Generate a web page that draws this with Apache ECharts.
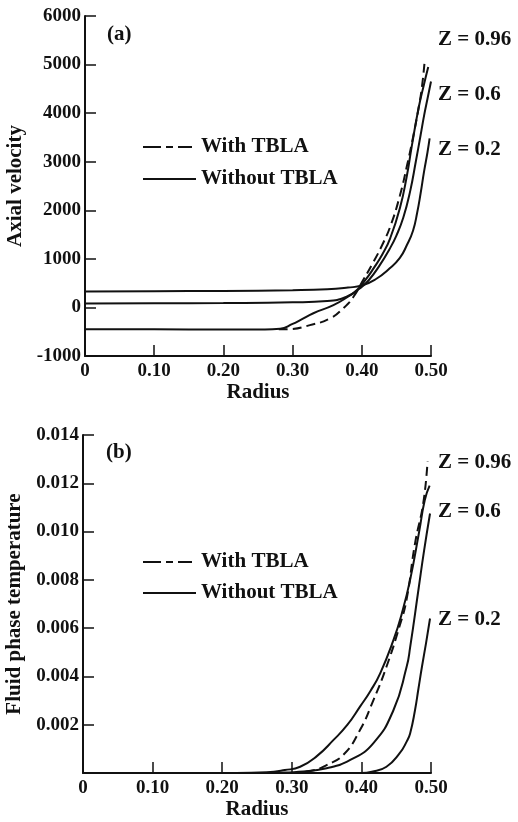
<!DOCTYPE html>
<html>
<head>
<meta charset="utf-8">
<script src="https://cdn.jsdelivr.net/npm/echarts@6/dist/echarts.min.js"></script>
<style>
  html, body { margin: 0; padding: 0; background: #fff; }
  #chart { width: 518px; height: 822px; }
</style>
</head>
<body>
<div id="chart"></div>
<script>
// ---- Panel (a): axial velocity vs radius ----
const velTicks = [-1000, 0, 1000, 2000, 3000, 4000, 5000, 6000];
const radiusTicks = [0, 0.10, 0.20, 0.30, 0.40, 0.50];

const velZ020 = [[0,330],[0.1,335],[0.2,340],[0.3,355],[0.35,375],[0.38,410],[0.40,450],[0.42,580],[0.44,800],[0.455,1020],[0.465,1280],[0.474,1580],[0.48,1950],[0.485,2350],[0.49,2800],[0.495,3200],[0.498,3480]];
const velZ060 = [[0,80],[0.1,85],[0.2,90],[0.3,105],[0.35,130],[0.378,220],[0.397,390],[0.41,560],[0.426,870],[0.44,1200],[0.45,1480],[0.46,1850],[0.47,2400],[0.478,3000],[0.485,3550],[0.49,3950],[0.495,4300],[0.5,4650]];
const velZ096 = [[0,-450],[0.1,-450],[0.2,-455],[0.26,-455],[0.282,-440],[0.30,-340],[0.311,-262],[0.33,-120],[0.359,47],[0.38,220],[0.393,357],[0.405,560],[0.417,804],[0.43,1100],[0.441,1423],[0.455,2041],[0.465,2700],[0.472,3300],[0.482,4100],[0.49,4600],[0.496,4950]];
const velZ096Tbla = [[0.28,-450],[0.296,-445],[0.325,-365],[0.354,-227],[0.373,-20],[0.388,220],[0.402,563],[0.417,942],[0.43,1300],[0.442,1700],[0.455,2300],[0.465,2900],[0.474,3500],[0.482,4100],[0.487,4550],[0.491,5100]];

// ---- Panel (b): fluid phase temperature vs radius ----
const tempTicks = [0, 0.002, 0.004, 0.006, 0.008, 0.010, 0.012, 0.014];

const tempZ020 = [[0,0],[0.3,0],[0.40,0],[0.415,0.00005],[0.436,0.00026],[0.455,0.00082],[0.465,0.0013],[0.47,0.00164],[0.477,0.0026],[0.482,0.0035],[0.487,0.0044],[0.493,0.0054],[0.4986,0.0064]];
const tempZ060 = [[0,0],[0.25,0],[0.29,0.00002],[0.31,0.00005],[0.35,0.0002],[0.384,0.00054],[0.417,0.00123],[0.446,0.0026],[0.465,0.0044],[0.47,0.0052],[0.482,0.0076],[0.49,0.0092],[0.4986,0.01075]];
const tempZ096 = [[0,0],[0.22,0],[0.264,0.00003],[0.29,0.00012],[0.312,0.00026],[0.336,0.0007],[0.36,0.00137],[0.38,0.002],[0.398,0.00275],[0.413,0.0034],[0.427,0.00413],[0.446,0.0055],[0.458,0.0066],[0.47,0.0080],[0.483,0.0100],[0.491,0.0113],[0.498,0.0119]];
const tempZ096Tbla = [[0.30,0],[0.33,0.0001],[0.35,0.00033],[0.374,0.00075],[0.398,0.00178],[0.417,0.0030],[0.436,0.0044],[0.455,0.0061],[0.465,0.0072],[0.477,0.0095],[0.489,0.0112],[0.495,0.0129]];

const zLabels = ['Z = 0.96', 'Z = 0.6', 'Z = 0.2'];
const legendLabels = ['With TBLA', 'Without TBLA'];

const FONT = '"Liberation Serif", "DejaVu Serif", serif';
const INK = '#111';
const TXT = 'bold 21px ' + FONT;

function xAxisFor(gridIndex, gap) {
  return {
    type: 'value', gridIndex,
    min: radiusTicks[0], max: radiusTicks[radiusTicks.length - 1], interval: 0.1,
    name: 'Radius', nameLocation: 'middle', nameGap: gap,
    nameTextStyle: { fontFamily: FONT, fontWeight: 'bold', fontSize: 21, color: INK },
    axisLine: { show: true, onZero: false, lineStyle: { color: INK, width: 2 } },
    axisTick: { show: true, inside: true, length: 11, lineStyle: { color: INK, width: 1.5 } },
    axisLabel: {
      fontFamily: FONT, fontWeight: 'bold', fontSize: 19, color: INK, margin: 6,
      formatter: v => (v === 0 ? '0' : v.toFixed(2))
    },
    splitLine: { show: false }
  };
}

function yAxisFor(gridIndex, ticks, name, nameGap, fmt) {
  return {
    type: 'value', gridIndex,
    min: ticks[0], max: ticks[ticks.length - 1], interval: ticks[1] - ticks[0],
    name, nameLocation: 'middle', nameGap,
    nameTextStyle: { fontFamily: FONT, fontWeight: 'bold', fontSize: 21, color: INK },
    axisLine: { show: true, onZero: false, lineStyle: { color: INK, width: 2 } },
    axisTick: { show: true, inside: true, length: 11, lineStyle: { color: INK, width: 1.5 } },
    axisLabel: { fontFamily: FONT, fontWeight: 'bold', fontSize: 19, color: INK, margin: 4, formatter: fmt },
    splitLine: { show: false }
  };
}

function curve(data, xi, dashed) {
  return {
    type: 'line', xAxisIndex: xi, yAxisIndex: xi, data,
    showSymbol: false, smooth: 0.5,
    lineStyle: { color: INK, width: 2, type: dashed ? [9, 5] : 'solid' },
    silent: true, animation: false
  };
}

function legendBlock(y0, gap) {
  return [
    { type: 'line', shape: { x1: 143, y1: y0, x2: 161, y2: y0 }, style: { stroke: INK, lineWidth: 2 } },
    { type: 'line', shape: { x1: 166, y1: y0, x2: 173, y2: y0 }, style: { stroke: INK, lineWidth: 2 } },
    { type: 'line', shape: { x1: 178, y1: y0, x2: 192, y2: y0 }, style: { stroke: INK, lineWidth: 2 } },
    { type: 'line', shape: { x1: 143, y1: y0 + gap, x2: 196, y2: y0 + gap }, style: { stroke: INK, lineWidth: 2 } },
    { type: 'text', x: 201, y: y0, style: { text: legendLabels[0], font: TXT, fill: INK, verticalAlign: 'middle' } },
    { type: 'text', x: 201, y: y0 + gap, style: { text: legendLabels[1], font: TXT, fill: INK, verticalAlign: 'middle' } }
  ];
}

function zText(x, y, t) {
  return { type: 'text', x, y, style: { text: t, font: TXT, fill: INK, verticalAlign: 'middle' } };
}

const chart = echarts.init(document.getElementById('chart'), null, { renderer: 'canvas' });
chart.setOption({
  backgroundColor: '#fff',
  animation: false,
  grid: [
    { left: 85, top: 16, width: 346, height: 340, outerBoundsMode: 'none', containLabel: false },
    { left: 83, top: 435, width: 348, height: 338, outerBoundsMode: 'none', containLabel: false }
  ],
  xAxis: [xAxisFor(0, 24), xAxisFor(1, 25)],
  yAxis: [
    yAxisFor(0, velTicks, 'Axial velocity', 54, v => String(v)),
    yAxisFor(1, tempTicks, 'Fluid phase temperature', 53, v => (v === 0 ? '' : v.toFixed(3)))
  ],
  series: [
    curve(velZ020, 0, false),
    curve(velZ060, 0, false),
    curve(velZ096, 0, false),
    curve(velZ096Tbla, 0, true),
    curve(tempZ020, 1, false),
    curve(tempZ060, 1, false),
    curve(tempZ096, 1, false),
    curve(tempZ096Tbla, 1, true)
  ],
  graphic: [
    { type: 'text', x: 107, y: 35, style: { text: '(a)', font: TXT, fill: INK, verticalAlign: 'middle' } },
    { type: 'text', x: 106, y: 453, style: { text: '(b)', font: TXT, fill: INK, verticalAlign: 'middle' } },
    zText(438, 40, zLabels[0]), zText(438, 95, zLabels[1]), zText(438, 150, zLabels[2]),
    zText(438, 463, zLabels[0]), zText(438, 512, zLabels[1]), zText(438, 620, zLabels[2]),
    ...legendBlock(147, 32),
    ...legendBlock(562, 31)
  ]
});
</script>
</body>
</html>
